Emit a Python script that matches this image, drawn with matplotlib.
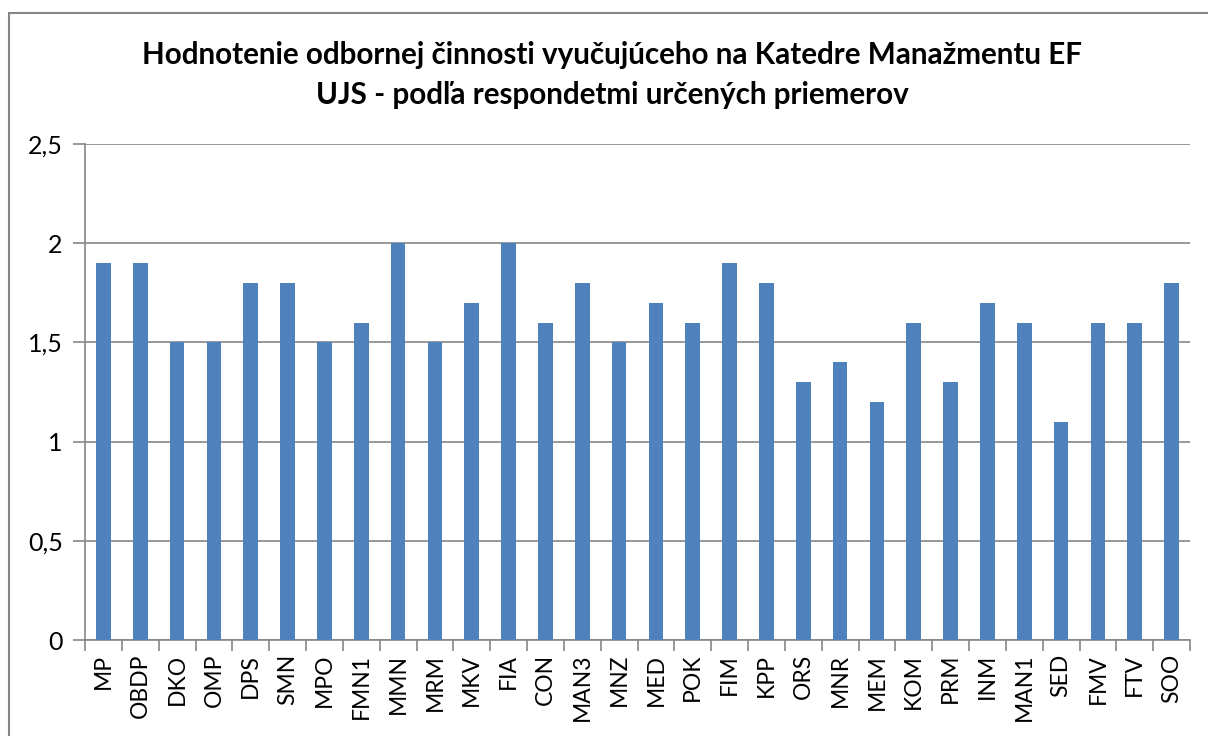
import matplotlib.pyplot as plt
import matplotlib.ticker as mticker
from matplotlib.patches import Rectangle

categories = [
    "MP", "OBDP", "DKO", "OMP", "DPS", "SMN", "MPO", "FMN1", "MMN", "MRM",
    "MKV", "FIA", "CON", "MAN3", "MNZ", "MED", "POK", "FIM", "KPP", "ORS",
    "MNR", "MEM", "KOM", "PRM", "INM", "MAN1", "SED", "FMV", "FTV", "SOO",
]
values = [
    1.9, 1.9, 1.5, 1.5, 1.8, 1.8, 1.5, 1.6, 2.0, 1.5,
    1.7, 2.0, 1.6, 1.8, 1.5, 1.7, 1.6, 1.9, 1.8, 1.3,
    1.4, 1.2, 1.6, 1.3, 1.7, 1.6, 1.1, 1.6, 1.6, 1.8,
]
y_ticks = [0, 0.5, 1, 1.5, 2, 2.5]

plt.rcParams["font.family"] = ["Lato", "DejaVu Sans"]
axis_gray = "#868686"

fig = plt.figure(figsize=(12.08, 7.36), dpi=100)
ax = fig.add_axes([85 / 1208, 96 / 736, 1105 / 1208, 496 / 736])

# chart area border (cropped on right/bottom)
fig.patches.append(
    Rectangle((9 / 1208, -0.1), 1.2, (736 - 13) / 736 + 0.1,
              transform=fig.transFigure, fill=False,
              edgecolor=axis_gray, linewidth=1.5)
)

x = list(range(len(categories)))
ax.bar(x, values, width=0.4, color="#4F81BD", zorder=3)

ax.set_xlim(-0.5, len(categories) - 0.5)
ax.set_ylim(0, 2.5)
ax.set_yticks(y_ticks)
ax.set_yticklabels([f"{t:g}".replace(".", ",") for t in y_ticks], fontsize=18)
ax.yaxis.grid(True, color=axis_gray, linewidth=1.2, zorder=0)

ax.set_xticks(x)
ax.set_xticklabels(categories, rotation=90, fontsize=16.5)
ax.xaxis.set_minor_locator(mticker.FixedLocator([i - 0.5 for i in range(len(categories) + 1)]))
ax.tick_params(axis="x", which="major", length=0, pad=10)
ax.tick_params(axis="x", which="minor", length=8, color=axis_gray, width=1.2)
ax.tick_params(axis="y", length=9, color=axis_gray, width=1.2, pad=7)

for side in ["top", "right"]:
    ax.spines[side].set_visible(False)
for side in ["left", "bottom"]:
    ax.spines[side].set_color(axis_gray)
    ax.spines[side].set_linewidth(1.2)

fig.text(0.507, 1 - 55 / 736,
         "Hodnotenie odbornej činnosti vyučujúceho na Katedre Manažmentu EF",
         ha="center", va="center", fontsize=21.3, fontweight="bold")
fig.text(0.507, 1 - 95 / 736,
         "UJS - podľa respondetmi určených priemerov",
         ha="center", va="center", fontsize=21.3, fontweight="bold")

fig.savefig("out.png", dpi=100)
plt.close(fig)
